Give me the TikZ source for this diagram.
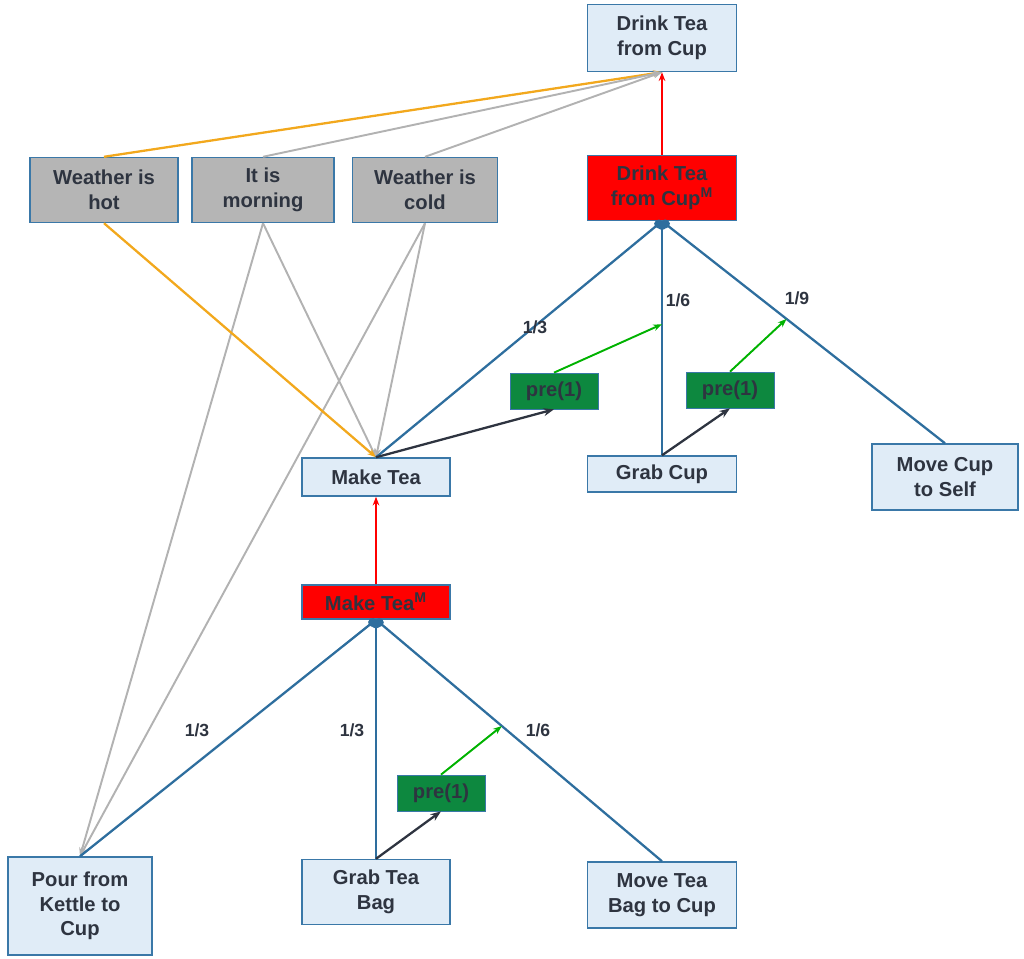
\documentclass[tikz,border=0pt]{standalone}
\usepackage{fontspec}
\setmainfont{Liberation Sans}
\usetikzlibrary{arrows.meta}
\definecolor{bbord}{HTML}{3A78A8}
\definecolor{bfill}{HTML}{E0ECF7}
\definecolor{gfill}{HTML}{B5B5B5}
\definecolor{tx}{HTML}{2E3440}
\definecolor{grn}{HTML}{0FA04A}
\definecolor{eblue}{HTML}{2E6E9E}
\definecolor{org}{HTML}{F2A81D}
\begin{document}
\begin{tikzpicture}[x=0.02cm,y=-0.02cm,
 box/.style={draw=bbord,line width=0.8pt,fill=bfill,align=center,text=tx,font=\fontsize{11.5}{14}\selectfont\bfseries,inner sep=1pt},
 gbox/.style={box,fill=gfill},
 rbox/.style={box,fill=red},
 pre/.style={draw=bbord,fill=grn!85!black,text=tx,font=\fontsize{11.5}{14}\selectfont\bfseries,minimum width=88*0.02cm,minimum height=36*0.02cm,inner sep=1pt},
 be/.style={eblue,line width=1.3pt},
 ge/.style={gray!60,line width=1.1pt,-{Stealth[length=5pt]}},
 oe/.style={org,line width=1.3pt,-{Stealth[length=5pt]}},
 re/.style={red,line width=1pt,-{Stealth[length=5pt]}},
 ke/.style={tx,line width=1.3pt,-{Stealth[length=6pt]}},
 gr/.style={green!70!black,line width=1.1pt,-{Stealth[length=5pt]}},
 lab/.style={text=tx,font=\fontsize{10}{12}\selectfont\bfseries}]
\useasboundingbox (0,0) rectangle (1024,959);
\node[box,minimum width=149*0.02cm,minimum height=67*0.02cm] (dt) at (662,38) {Drink Tea\\from Cup};
\node[gbox,minimum width=148*0.02cm,minimum height=65*0.02cm] (wh) at (104,190) {Weather is\\hot};
\node[gbox,minimum width=142*0.02cm,minimum height=65*0.02cm] (mo) at (263,190) {It is\\morning};
\node[gbox,minimum width=145*0.02cm,minimum height=65*0.02cm] (wc) at (425,190) {Weather is\\cold};
\node[rbox,minimum width=149*0.02cm,minimum height=65*0.02cm] (dm) at (662,188) {Drink Tea\\from Cup\textsuperscript{M}};
\node[box,minimum width=148*0.02cm,minimum height=38*0.02cm] (mt) at (376,477) {Make Tea};
\node[box,minimum width=149*0.02cm,minimum height=36*0.02cm] (gc) at (662,474) {Grab Cup};
\node[box,minimum width=146*0.02cm,minimum height=66*0.02cm] (mc) at (945,477) {Move Cup\\to Self};
\node[rbox,minimum width=148*0.02cm,minimum height=34*0.02cm] (mm) at (376,602) {Make Tea\textsuperscript{M}};
\node[pre] (p1) at (554,391) {pre(1)};
\node[pre] (p2) at (730,390) {pre(1)};
\node[pre] (p3) at (441,793) {pre(1)};
\node[box,minimum width=144*0.02cm,minimum height=98*0.02cm] (pk) at (80,906) {Pour from\\Kettle to\\Cup};
\node[box,minimum width=148*0.02cm,minimum height=65*0.02cm] (gt) at (376,892) {Grab Tea\\Bag};
\node[box,minimum width=149*0.02cm,minimum height=66*0.02cm] (mb) at (662,895) {Move Tea\\Bag to Cup};
% top convergence
\draw[oe] (wh.north) -- (dt.south);
\draw[ge] (mo.north) -- (dt.south);
\draw[ge] (wc.north) -- (dt.south);
\draw[ge] (mo.south) -- (pk.north);
\draw[ge] (wc.south) -- (pk.north);
\draw[ge] (mo.south) -- (mt.north);
\draw[ge] (wc.south) -- (mt.north);
\draw[oe] (wh.south) -- (mt.north);
\draw[re] (dm.north) -- (dt.south);
\draw[re] (mm.north) -- (mt.south);
% blue method edges
\draw[be,{Circle[length=5pt]}-] (dm.south) -- (mt.north);
\draw[be,{Circle[length=5pt]}-] (dm.south) -- (gc.north) coordinate[pos=0.44] (a1);
\draw[be,{Circle[length=5pt]}-] (dm.south) -- (mc.north) coordinate[pos=0.44] (a2);
\draw[be,{Circle[length=5pt]}-] (mm.south) -- (pk.north);
\draw[be,{Circle[length=5pt]}-] (mm.south) -- (gt.north);
\draw[be,{Circle[length=5pt]}-] (mm.south) -- (mb.north) coordinate[pos=0.44] (a3);
\node[lab] at (535,327) {1/3};
\node[lab] at (678,300) {1/6};
\node[lab] at (797,298) {1/9};
\node[lab] at (197,730) {1/3};
\node[lab] at (352,730) {1/3};
\node[lab] at (538,730) {1/6};
% pre arrows
\draw[gr] (p1.north) -- (a1);
\draw[gr] (p2.north) -- (a2);
\draw[gr] (p3.north) -- (a3);
\draw[ke] (mt.north) -- (p1.south);
\draw[ke] (gc.north) -- (p2.south);
\draw[ke] (gt.north) -- (p3.south);
\end{tikzpicture}
\end{document}
